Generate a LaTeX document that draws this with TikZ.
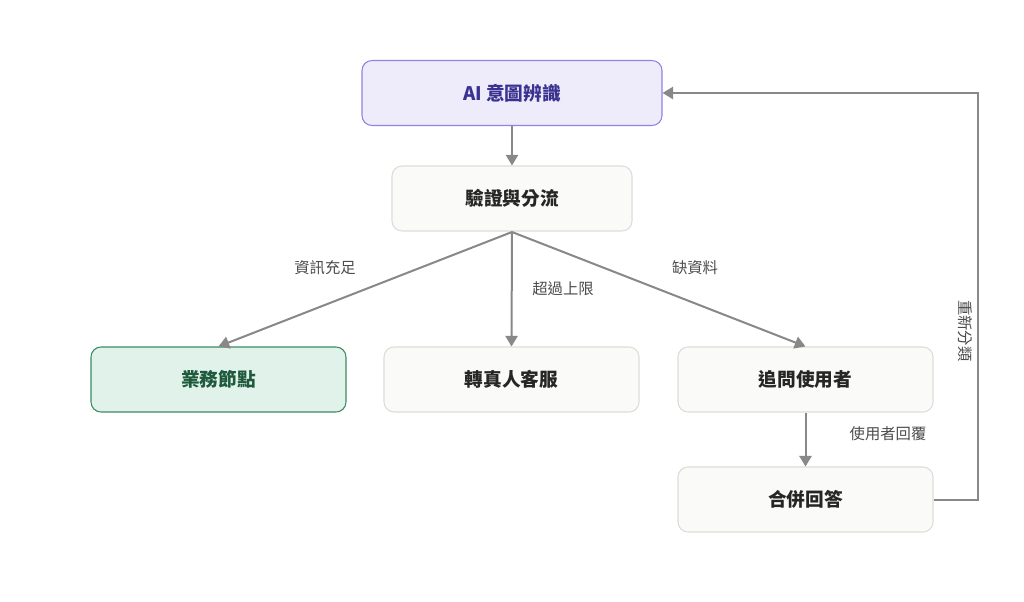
\documentclass[tikz,border=0pt]{standalone}
\usepackage{fontspec}
\setmainfont{Noto Sans CJK TC}
\usetikzlibrary{arrows.meta}
\definecolor{edge}{HTML}{888888}
\definecolor{lav}{HTML}{EEECFB}
\definecolor{lavb}{HTML}{8F84E0}
\definecolor{lavt}{HTML}{3A3290}
\definecolor{grn}{HTML}{E0F2EA}
\definecolor{grnb}{HTML}{3E8A63}
\definecolor{grnt}{HTML}{1F5A3C}
\definecolor{neu}{HTML}{FAFAF8}
\definecolor{neub}{HTML}{DDDDD8}
\begin{document}
\begin{tikzpicture}[x=0.75pt,y=-0.75pt,
box/.style={draw=neub,fill=neu,rounded corners=7.5pt,line width=0.8pt,minimum width=255*0.75pt,minimum height=65*0.75pt,font=\fontsize{14}{16}\selectfont\bfseries,text=black!85},
arr/.style={draw=edge,line width=1.5pt,-{Stealth[length=8pt,width=7pt,inset=0pt,angle'=60]}},
lab/.style={font=\fontsize{11.5}{13}\selectfont,text=black!70}]
\useasboundingbox[fill=white] (0,0) rectangle (1024,602);
\node[box,fill=lav,draw=lavb,text=lavt,minimum width=300*0.75pt] (ai) at (512,93) {AI 意圖辨識};
\node[box,minimum width=240*0.75pt] (v) at (512,198.5) {驗證與分流};
\node[box,fill=grn,draw=grnb,text=grnt] (b) at (218.5,379.5) {業務節點};
\node[box] (h) at (511.5,379.5) {轉真人客服};
\node[box] (q) at (805.5,379.5) {追問使用者};
\node[box] (m) at (805.5,499.5) {合併回答};
\coordinate (vs) at (512,232);
\coordinate (c1) at (978,499.5);
\coordinate (c2) at (978,93);
\draw[arr] (ai) -- (v);
\draw[arr] (vs) -- (b.north);
\draw[arr] (vs) -- (h.north);
\draw[arr] (vs) -- (q.north);
\draw[arr] (q) -- (m);
\draw[arr] (m.east) -- (c1) -- (c2) -- (ai.east);
\node[lab] (l1) at (325,268) {資訊充足};
\node[lab] (l2) at (563,289) {超過上限};
\node[lab] (l3) at (695,268) {缺資料};
\node[lab] (l4) at (888,434) {使用者回覆};
\node[lab,rotate=-90] (l5) at (965,331) {重新分類};
\end{tikzpicture}
\end{document}
